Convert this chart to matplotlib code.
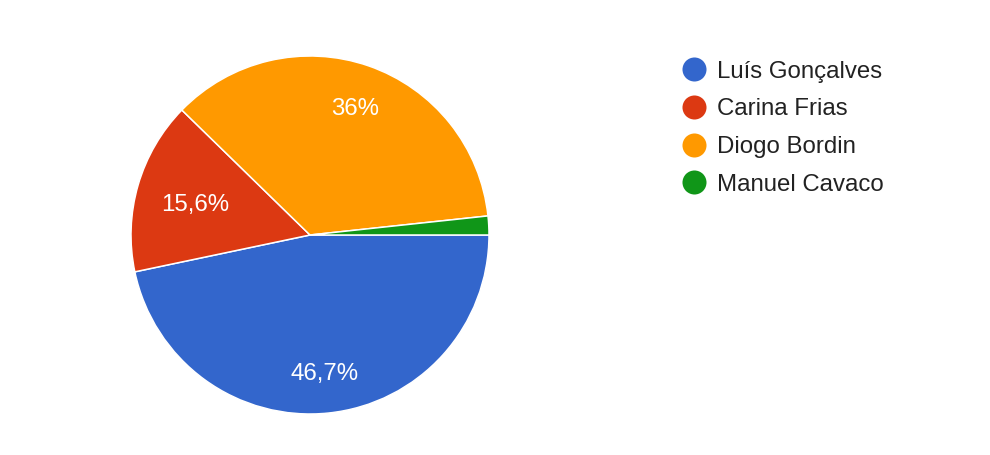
import matplotlib
matplotlib.use("Agg")
import matplotlib.pyplot as plt
import numpy as np

names = ["Luís Gonçalves", "Carina Frias", "Diogo Bordin", "Manuel Cavaco"]
values = [46.7, 15.6, 36.0, 1.7]
labels = ["46,7%", "15,6%", "36%", ""]
colors = ["#3366cc", "#dc3912", "#ff9900", "#109618"]

plt.rcParams['font.family'] = ['Liberation Sans', 'DejaVu Sans']
FS = 17.3

fig = plt.figure(figsize=(9.9, 4.56), dpi=100)
ax = fig.add_axes([0, 0, 1, 1])
cx, cy, R = 310, 456 - 236, 179
wedges, _ = ax.pie(values, colors=colors, startangle=0, counterclock=False,
                   center=(cx, cy), radius=R,
                   wedgeprops=dict(edgecolor="white", linewidth=1.1))
ax.set_xlim(0, 990)
ax.set_ylim(0, 456)
ax.set_aspect('equal')
ax.axis('off')

label_r = [0.765, 0.67, 0.765, 0.7]
for w, lab, rr in zip(wedges, labels, label_r):
    if not lab:
        continue
    ang = np.deg2rad((w.theta1 + w.theta2) / 2)
    ax.text(cx + R * rr * np.cos(ang), cy + R * rr * np.sin(ang) - 2, lab,
            color="white", fontsize=FS, ha="center", va="center")

# legend
ly0, dy = 456 - 70, 37.8
for i, (n, c) in enumerate(zip(names, colors)):
    y = ly0 - i * dy
    ax.plot([694], [y], marker="o", markersize=17.3, color=c, markeredgewidth=0)
    ax.text(717, y - 1.5, n, fontsize=FS, color="#222222", ha="left", va="center")

fig.savefig("out.png", dpi=100)
